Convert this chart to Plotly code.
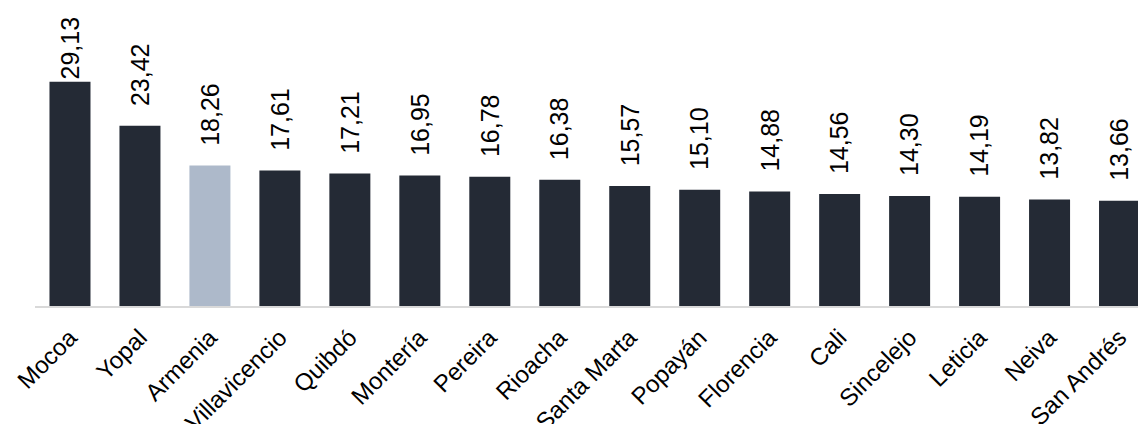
import plotly.graph_objects as go

cities = ["Mocoa", "Yopal", "Armenia", "Villavicencio", "Quibdó", "Montería", "Pereira",
          "Rioacha", "Santa Marta", "Popayán", "Florencia", "Cali", "Sincelejo",
          "Leticia", "Neiva", "San Andrés"]
values = [29.13, 23.42, 18.26, 17.61, 17.21, 16.95, 16.78, 16.38, 15.57, 15.10,
          14.88, 14.56, 14.30, 14.19, 13.82, 13.66]
highlight = "Armenia"

DARK = "#242a35"
LIGHT = "#adb9ca"
FONT = "Liberation Sans, Arial, sans-serif"

colors = [LIGHT if c == highlight else DARK for c in cities]
labels = [f"{v:.2f}".replace(".", ",") for v in values]

YMAX = 39.74

fig = go.Figure()
fig.add_trace(go.Bar(
    x=cities, y=values, marker=dict(color=colors, line=dict(width=0)),
    hoverinfo="skip",
))

annotations = []
for c, v, t in zip(cities, values, labels):
    # labels that would run past the top are tucked just under the top edge
    if v > 0.72 * YMAX:
        annotations.append(dict(x=c, y=YMAX, yref="y", xref="x", text=t, textangle=-90,
                                showarrow=False, yanchor="top", yshift=-14,
                                font=dict(family=FONT, size=25, color="#000000")))
    else:
        annotations.append(dict(x=c, y=v, yref="y", xref="x", text=t, textangle=-90,
                                showarrow=False, yanchor="bottom", yshift=18,
                                font=dict(family=FONT, size=25, color="#000000")))

fig.update_layout(
    template="none",
    width=1138, height=424,
    margin=dict(l=35, r=0, t=0, b=118, pad=0),
    paper_bgcolor="white", plot_bgcolor="white",
    bargap=0.414,
    showlegend=False,
    annotations=annotations,
    xaxis=dict(
        range=[-0.5, 15.264], automargin=False,
        showline=True, linecolor="#d9d9d9", linewidth=2,
        ticks="", tickangle=-45, ticklabelstandoff=6,
        tickfont=dict(family=FONT, size=24, color="#000000"),
        showgrid=False, zeroline=False,
    ),
    yaxis=dict(range=[0, YMAX], visible=False, showgrid=False, zeroline=False,
               automargin=False),
)

fig.write_html("out.html", config={"displayModeBar": False},
               post_script="document.body.style.margin='0px';document.body.style.overflow='hidden';")
